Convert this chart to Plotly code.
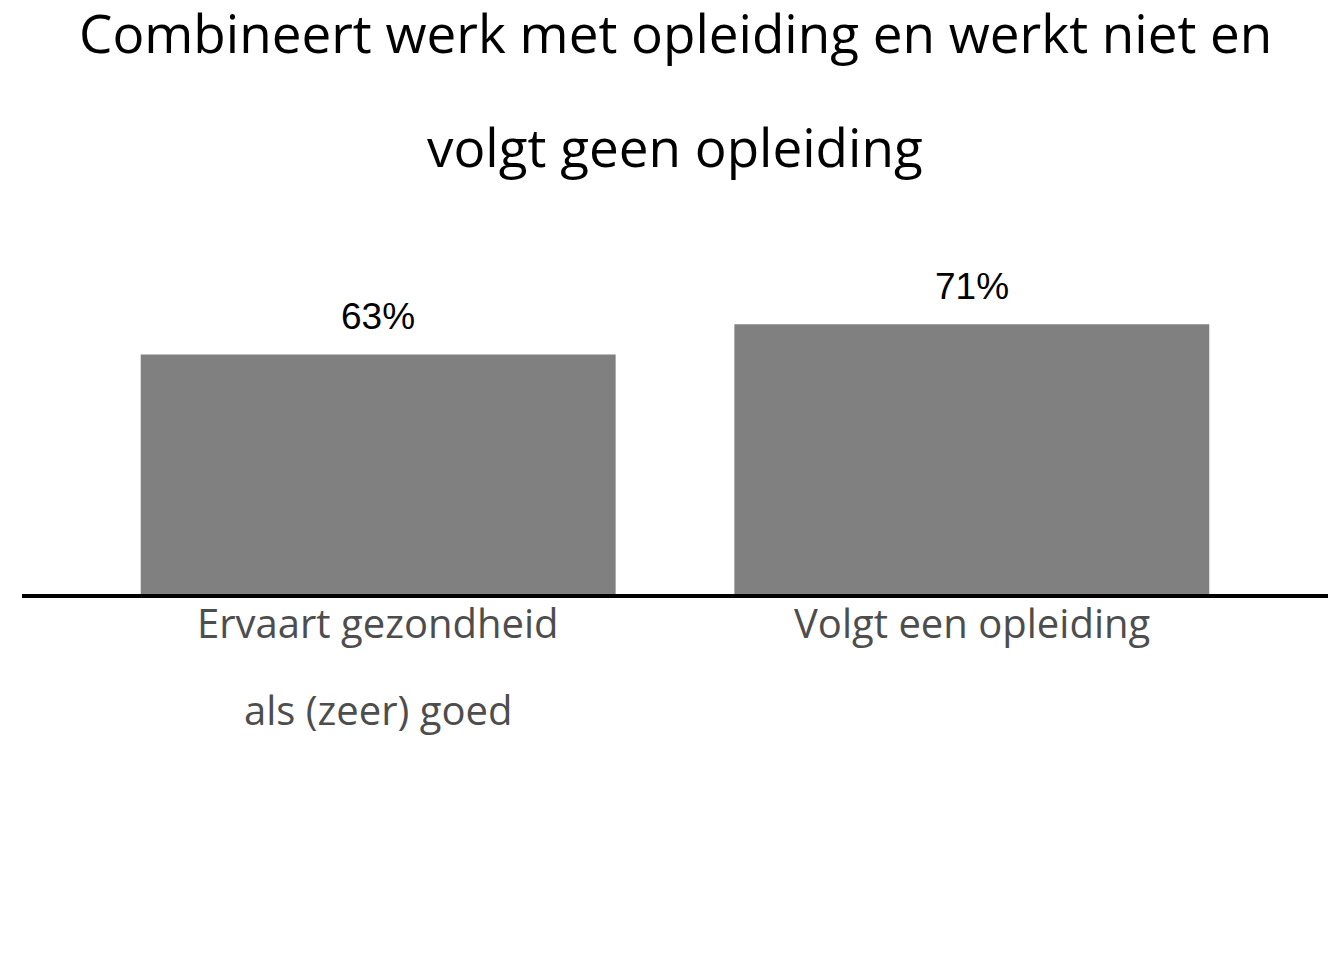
import plotly.graph_objects as go

category_lines = [["Ervaart gezondheid", "als (zeer) goed"], ["Volgt een opleiding"]]
categories = [" ".join(c) for c in category_lines]
values = [63, 71]
labels = ["63%", "71%"]
title_lines = ["Combineert werk met opleiding en werkt niet en", "volgt geen opleiding"]

fig = go.Figure()
fig.add_trace(go.Bar(
    x=categories, y=values,
    marker=dict(color="#808080", line=dict(width=0)),
    width=0.8,
    hoverinfo="skip",
))

annotations = []
# value labels
for c, v, t in zip(categories, values, labels):
    annotations.append(dict(x=c, y=v, xref="x", yref="y", text=t, showarrow=False,
                            xanchor="center", yanchor="middle", yshift=38,
                            font=dict(family="Liberation Sans, Arial", size=37, color="black")))
# category labels
for c, lines in zip(categories, category_lines):
    for i, line in enumerate(lines):
        annotations.append(dict(x=c, y=0, xref="x", yref="paper", text=line, showarrow=False,
                                xanchor="center", yanchor="middle", yshift=-28 - 87 * i,
                                font=dict(family="Open Sans", size=40, color="#4d4d4d")))
# title lines
for i, line in enumerate(title_lines):
    annotations.append(dict(x=0.5, y=1, xref="paper", yref="paper", text=line, showarrow=False,
                            xanchor="center", yanchor="middle", yshift=182 - 114 * i,
                            font=dict(family="Open Sans", size=53, color="black")))

fig.update_layout(
    width=1336, height=952,
    margin=dict(l=14, r=16, t=206, b=366),
    paper_bgcolor="white", plot_bgcolor="white",
    showlegend=False,
    annotations=annotations,
    xaxis=dict(showline=True, linecolor="black", linewidth=4, ticks="",
               range=[-0.6, 1.6],
               showticklabels=False, showgrid=False, zeroline=False),
    yaxis=dict(range=[0, 100], visible=False, showgrid=False, zeroline=False),
)

fig.write_html("out.html")
